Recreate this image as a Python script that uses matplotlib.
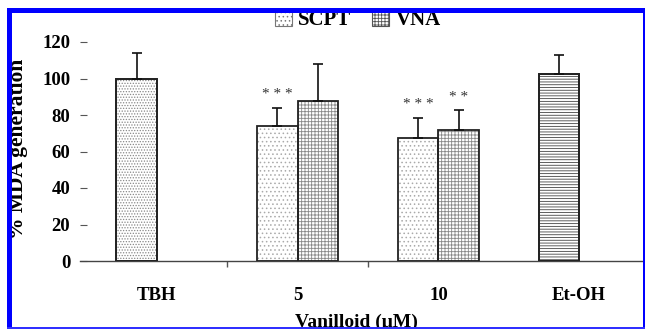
import matplotlib
matplotlib.use('Agg')
import matplotlib.pyplot as plt
from matplotlib.patches import Rectangle, Patch
import numpy as np

# data
groups = ['TBH', '5', '10', 'Et-OH']
ctrl_idx = [0, 3]
ctrl_vals = [100, 102.5]
ctrl_err = [14, 10.5]
ctrl_hatch = ['......', '------']
drug_idx = [1, 2]
scpt_vals = [74, 67.5]
scpt_err = [9.6, 11]
scpt_stars = ['* * *', '* * *']
vna_vals = [87.5, 72]
vna_err = [20.4, 10.5]
vna_stars = ['', '* *']

W, H = 645, 329
plt.rcParams['font.family'] = ['Liberation Serif', 'DejaVu Serif']
plt.rcParams['hatch.linewidth'] = 0.6

fig = plt.figure(figsize=(W / 100, H / 100), dpi=100)
ax = fig.add_axes([80 / W, 1 - 261 / H, 565 / W, (261 - 42) / H])

bw = 0.288


def draw_bars(x, vals, errs, hatch, hcol):
    # hatch layer then outline layer
    ax.bar(x, vals, bw, align='edge', color='white', hatch=hatch,
           edgecolor=hcol, linewidth=0, zorder=2)
    ax.bar(x, vals, bw, align='edge', fill=False, edgecolor='#222222',
           linewidth=1.3, zorder=3)
    xc = np.asarray(x) + bw / 2
    ax.errorbar(xc, vals, yerr=[np.zeros(len(vals)), errs], fmt='none',
                ecolor='#111111', elinewidth=1.2, capsize=3.5, capthick=1.2, zorder=4)


cx = np.array(ctrl_idx, dtype=float)
draw_bars(cx - bw, ctrl_vals, ctrl_err, None, '#888888')
# hatches differ between the two control bars
ax.bar(cx[0] - bw, ctrl_vals[0], bw, align='edge', color='white', hatch=ctrl_hatch[0],
       edgecolor='#888888', linewidth=0, zorder=2.5)
ax.bar(cx[1] - bw, ctrl_vals[1], bw, align='edge', color='white', hatch=ctrl_hatch[1],
       edgecolor='#444444', linewidth=0, zorder=2.5)
ax.bar(cx - bw, ctrl_vals, bw, align='edge', fill=False, edgecolor='#222222',
       linewidth=1.3, zorder=3)

dx = np.array(drug_idx, dtype=float)
draw_bars(dx - bw, scpt_vals, scpt_err, '....', '#aaaaaa')
draw_bars(dx, vna_vals, vna_err, '+++++', '#888888')

for x, v, e, s in zip(dx - bw / 2, scpt_vals, scpt_err, scpt_stars):
    if s:
        ax.text(x, v + e + 7.5, s, ha='center', va='center', fontsize=11, color='#333333')
for x, v, e, s in zip(dx + bw / 2, vna_vals, vna_err, vna_stars):
    if s:
        ax.text(x, v + e + 7, s, ha='center', va='center', fontsize=11, color='#333333')

ax.set_xlim(-0.547, 3.468)
ax.set_ylim(0, 120)
ax.set_yticks(range(0, 121, 20))
ax.set_xticks(range(len(groups)))
ax.set_xticklabels(groups)
ax.set_xticks([0.5, 1.5], minor=True)
ax.tick_params(axis='x', which='major', length=0, pad=19, labelsize=13.5)
ax.tick_params(axis='x', which='minor', length=4, width=1, color='#555555', direction='out')
ax.tick_params(axis='y', length=5, width=0.8, direction='in', pad=7, labelsize=13.5,
               color='#555555')
for lab in ax.get_xticklabels() + ax.get_yticklabels():
    lab.set_fontweight('bold')
for s in ['left', 'top', 'right']:
    ax.spines[s].set_visible(False)
ax.spines['bottom'].set_color('#444444')
ax.spines['bottom'].set_linewidth(1.0)

fig.text(18 / W, 1 - 149 / H, '% MDA generation', rotation=90, ha='center', va='center',
         fontsize=15.5, fontweight='bold')
fig.text(356 / W, 1 - 322 / H, 'Vanilloid (\u03bcM)', ha='center', va='center',
         fontsize=14, fontweight='bold')

handles = [Patch(facecolor='white', edgecolor='#777777', hatch='....', linewidth=0.8),
           Patch(facecolor='white', edgecolor='#555555', hatch='+++++', linewidth=0.8)]
leg = fig.legend(handles, ['SCPT', 'VNA'], loc='center', bbox_to_anchor=(358 / W, 1 - 20 / H),
                 ncol=2, frameon=False, handlelength=0.8, handleheight=0.8, handletextpad=0.3,
                 columnspacing=1.0, prop={'weight': 'bold', 'size': 15})


# blue frame around the figure
def px_rect(x0, y0, w, h, color='#0000ff'):
    fig.add_artist(Rectangle((x0 / W, 1 - (y0 + h) / H), w / W, h / H,
                             transform=fig.transFigure, color=color, zorder=20, lw=0))


px_rect(7, 8, 5, 321)
px_rect(7, 8, 638, 5)
px_rect(643, 8, 2, 321)
px_rect(7, 327, 638, 2, '#3030ff')

fig.savefig('out.png', dpi=100)
